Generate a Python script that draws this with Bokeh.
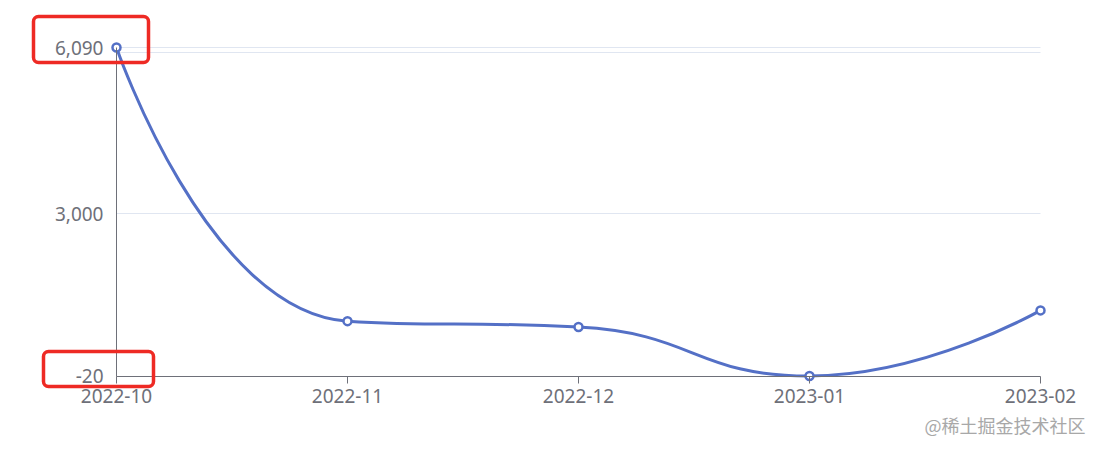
import math
from bokeh.plotting import figure
from bokeh.models import (Range1d, FixedTicker, NumeralTickFormatter, BoxAnnotation, Label)
from bokeh.embed import file_html
from bokeh.resources import INLINE

# ---- data ----
months = ["2022-10", "2022-11", "2022-12", "2023-01", "2023-02"]
values = [6090, 1000, 890, -20, 1200]
y_min = min(values)
y_max = max(values)
y_ticks = [y_min, 3000, 6000, y_max]

# ---- layout (page pixels) ----
W, H = 1095, 445
PLOT_L, PLOT_R = 116, 1040     # where first / last category sit
PLOT_T, PLOT_B = 47, 375.5     # where y max / y min sit

n = len(months)
px_per_x = (PLOT_R - PLOT_L) / (n - 1)
px_per_y = (PLOT_B - PLOT_T) / (y_max - y_min)

# frame covers the whole canvas; axes are pinned with fixed_location
x_start = 0 - PLOT_L / px_per_x
x_end = (n - 1) + (W - PLOT_R) / px_per_x
y_end = y_max + PLOT_T / px_per_y
y_start = y_min - (H - PLOT_B) / px_per_y

xs = list(range(n))

p = figure(width=W, height=H, output_backend="svg", toolbar_location=None,
           x_range=Range1d(x_start, x_end), y_range=Range1d(y_start, y_end),
           min_border_left=0, min_border_right=0, min_border_top=0, min_border_bottom=0)
p.outline_line_color = None
p.background_fill_color = "white"
p.border_fill_color = "white"

AX = "#6E7079"
FONT = "Noto Sans"

# x axis
xa = p.xaxis[0]
xa.fixed_location = y_min
xa.bounds = (0, n - 1)
xa.ticker = FixedTicker(ticks=xs)
xa.major_label_overrides = {i: m for i, m in enumerate(months)}
xa.axis_line_color = AX
xa.major_tick_line_color = AX
xa.major_tick_out = 7
xa.major_tick_in = 0
xa.minor_tick_line_color = None
xa.major_label_text_color = AX
xa.major_label_text_font = FONT
xa.major_label_text_font_size = "19px"
xa.major_label_standoff = 6
p.xgrid.grid_line_color = None

# y axis
ya = p.yaxis[0]
ya.fixed_location = 0
ya.bounds = (y_min, y_max)
ya.ticker = FixedTicker(ticks=y_ticks)
ya.formatter = NumeralTickFormatter(format="0,0")
ya.major_label_overrides = {6000: ""}
ya.axis_line_color = AX
ya.major_tick_line_color = None
ya.major_tick_out = 0
ya.major_tick_in = 0
ya.minor_tick_line_color = None
ya.major_label_text_color = AX
ya.major_label_text_font = FONT
ya.major_label_text_font_size = "19px"
ya.major_label_standoff = 13
p.ygrid.ticker = FixedTicker(ticks=y_ticks)
p.ygrid.grid_line_color = "#E0E6F1"
p.ygrid.grid_line_width = 1
p.ygrid.bounds = (y_min, y_max)
p.ygrid.cross_bounds = (0, n - 1)

# ---- ECharts-style smoothing (control points computed in pixel space) ----
def smooth_segments(xv, yv, smooth=0.5):
    pts = [(a * px_per_x, b * px_per_y) for a, b in zip(xv, yv)]
    m = len(pts)
    segs = []
    cp0 = pts[0]
    for i in range(1, m):
        x, y = pts[i]
        px, py = pts[i - 1]
        if i == m - 1:
            cp1 = (x, y)
            nxt = None
        else:
            nx, ny = pts[i + 1]
            vx, vy = nx - px, ny - py
            lp = math.hypot(x - px, y - py)
            ln = math.hypot(nx - x, ny - y)
            r = ln / (ln + lp)
            ncx = x + vx * smooth * r
            ncy = y + vy * smooth * r
            ncx = min(ncx, max(nx, x)); ncy = min(ncy, max(ny, y))
            ncx = max(ncx, min(nx, x)); ncy = max(ncy, min(ny, y))
            vx, vy = ncx - x, ncy - y
            c1x = x - vx * lp / ln
            c1y = y - vy * lp / ln
            c1x = min(c1x, max(px, x)); c1y = min(c1y, max(py, y))
            c1x = max(c1x, min(px, x)); c1y = max(c1y, min(py, y))
            vx, vy = x - c1x, y - c1y
            ncx = x + vx * ln / lp
            ncy = y + vy * ln / lp
            cp1 = (c1x, c1y)
            nxt = (ncx, ncy)
        segs.append((pts[i - 1], cp0, cp1, pts[i]))
        cp0 = nxt
    return segs

segs = smooth_segments(xs, values)
bz = dict(x0=[], y0=[], x1=[], y1=[], cx0=[], cy0=[], cx1=[], cy1=[])
for s, c0, c1, e in segs:
    bz["x0"].append(s[0] / px_per_x); bz["y0"].append(s[1] / px_per_y)
    bz["cx0"].append(c0[0] / px_per_x); bz["cy0"].append(c0[1] / px_per_y)
    bz["cx1"].append(c1[0] / px_per_x); bz["cy1"].append(c1[1] / px_per_y)
    bz["x1"].append(e[0] / px_per_x); bz["y1"].append(e[1] / px_per_y)

LINE = "#5470C6"
p.bezier(x0="x0", y0="y0", x1="x1", y1="y1", cx0="cx0", cy0="cy0", cx1="cx1", cy1="cy1",
         source=bz, line_color=LINE, line_width=3)
p.scatter(xs, values, size=8, marker="circle", fill_color="white",
          line_color=LINE, line_width=2.5)

# ---- red annotation boxes around the min / max labels (screen units) ----
def px_box(l, t, r, b):
    return dict(left=l, right=r, top=H - t, bottom=H - b,
                left_units="screen", right_units="screen",
                top_units="screen", bottom_units="screen")

for box in [(33, 16, 148, 62), (43, 351, 153, 386)]:
    p.add_layout(BoxAnnotation(**px_box(*box), fill_alpha=0, line_color="#EE2A24",
                               line_alpha=1, line_width=3.5, border_radius=5))

wm = Label(x=1085, y=H - 424, x_units="screen", y_units="screen",
           text="@稀土掘金技术社区", text_font="Noto Sans CJK SC", text_font_size="18px",
           text_color="#A8A8A8", text_align="right", text_baseline="middle")
p.add_layout(wm)

open("out.html", "w").write(file_html(p, INLINE))
